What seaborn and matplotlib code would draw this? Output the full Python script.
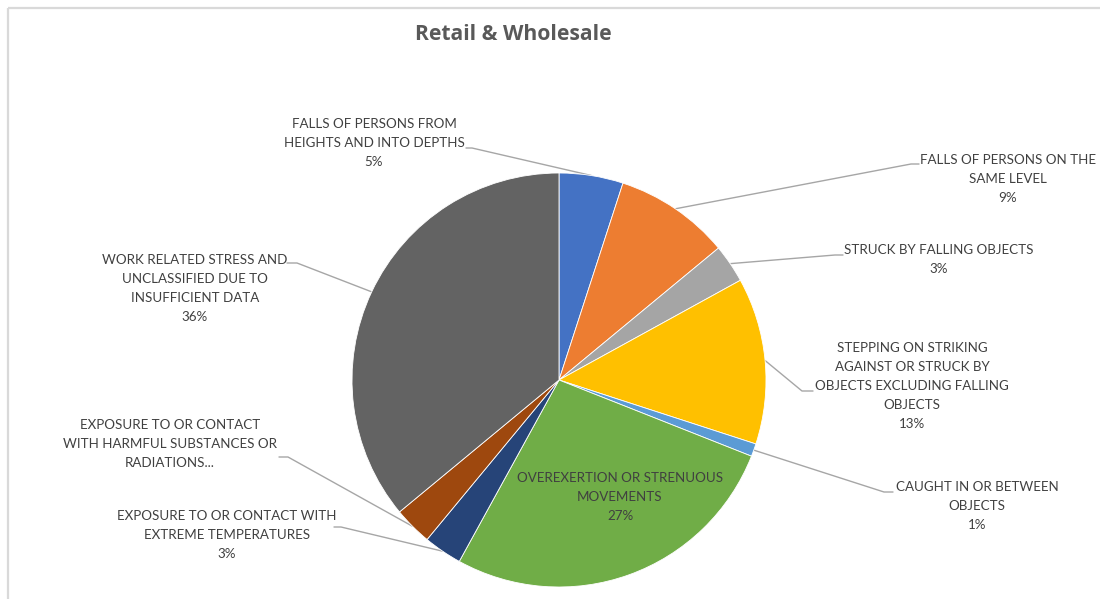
import numpy as np
import matplotlib
matplotlib.use("Agg")
import matplotlib.pyplot as plt
import seaborn as sns

# Injury causes in the retail & wholesale sector (share of cases, %)
categories = [
    "FALLS OF PERSONS FROM\nHEIGHTS AND INTO DEPTHS",
    "FALLS OF PERSONS ON THE\nSAME LEVEL",
    "STRUCK BY FALLING OBJECTS",
    "STEPPING ON STRIKING\nAGAINST OR STRUCK BY\nOBJECTS EXCLUDING FALLING\nOBJECTS",
    "CAUGHT IN OR BETWEEN\nOBJECTS",
    "OVEREXERTION OR STRENUOUS\nMOVEMENTS",
    "EXPOSURE TO OR CONTACT WITH\nEXTREME TEMPERATURES",
    "EXPOSURE TO OR CONTACT\nWITH HARMFUL SUBSTANCES OR\nRADIATIONS...",
    "WORK RELATED STRESS AND\nUNCLASSIFIED DUE TO\nINSUFFICIENT DATA",
]
shares = [5, 9, 3, 13, 1, 27, 3, 3, 36]
show_pct = [True, True, True, True, True, True, True, False, True]

colors = ["#4472C4", "#ED7D31", "#A5A5A5", "#FFC000", "#5B9BD5",
          "#70AD47", "#264478", "#9E480E", "#636363"]

sns.set_theme(style="white")
palette = sns.color_palette(colors)
plt.rcParams["font.family"] = ["Lato", "DejaVu Sans"]

W, H = 1100, 599
fig = plt.figure(figsize=(W / 100, H / 100), dpi=100)
ax = fig.add_axes([0, 0, 1, 1])


def py(y):
    """Convert a top-down pixel row to the upward data axis."""
    return H - y


cx, cy, r = 559, 380, 207
wedges, _ = ax.pie(shares, colors=palette, startangle=90, counterclock=False,
                   center=(cx, py(cy)), radius=r,
                   wedgeprops=dict(edgecolor="white", linewidth=0.6))
ax.set_xlim(0, W)
ax.set_ylim(0, H)
ax.set_aspect("equal")
ax.axis("off")

# Chart-area frame (top and left edges)
ax.plot([7.5, W], [py(7.5), py(7.5)], color="#D9D9D9", lw=1.6, solid_capstyle="butt")
ax.plot([7.5, 7.5], [py(7.5), 0], color="#D9D9D9", lw=1.6, solid_capstyle="butt")

ax.text(513, py(35), "Retail & Wholesale", ha="center", va="center",
        fontsize=15.2, fontweight="bold", color="#595959",
        family=["Open Sans", "DejaVu Sans"])

# Label block centres and the start of each leader line
label_pos = [(374, 143), (1008, 179), (939, 259.5), (912, 386), (977, 506),
             (620, 497), (227, 535), (170, 444), (195, 288.5)]
leader_start = [
    [(466, 148), (472, 148)],
    [(919, 164), (911, 164)],
    [(843, 255), (835, 255)],
    [(813, 391), (802, 391)],
    [(893, 492), (884, 492)],
    None,
    [(334, 527), (341, 527)],
    [(279, 457), (288, 457)],
    [(287, 263), (297, 263)],
]

cum = np.cumsum([0] + shares)
total = cum[-1]
for i, (lab, val) in enumerate(zip(categories, shares)):
    text = lab + (f"\n{val}%" if show_pct[i] else "")
    lx, ly = label_pos[i]
    ax.text(lx, py(ly), text, ha="center", va="center", multialignment="center",
            fontsize=9.6, color="#404040", linespacing=1.72)
    if leader_start[i] is not None:
        mid = (cum[i] + cum[i + 1]) / 2 / total * 2 * np.pi
        ex = cx + r * np.sin(mid)
        ey = cy - r * np.cos(mid)
        pts = leader_start[i] + [(ex, ey)]
        ax.plot([p[0] for p in pts], [py(p[1]) for p in pts],
                color="#A6A6A6", lw=1.0, zorder=0.5)

fig.savefig("out.png", dpi=100, facecolor="white")
